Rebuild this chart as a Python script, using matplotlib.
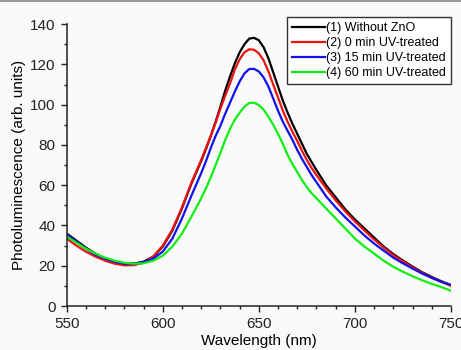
import matplotlib
matplotlib.use('Agg')
import matplotlib.pyplot as plt
import numpy as np

plt.rcParams['font.family'] = ['Liberation Sans', 'DejaVu Sans']

# Lunghezze d'onda (nm): passo 5 nelle code, 2.5 attorno al picco
wavelength = np.concatenate([np.arange(550, 621, 5),
                             np.arange(622.5, 680.1, 2.5),
                             np.arange(685, 751, 5)])

without_zno = [36.0, 32.5, 29.0, 26.0, 23.5, 22.0, 21.0, 21.0, 22.0, 24.5, 29.5, 37.5, 48.5, 61.0, 72.0,
               78.0, 84.5, 91.5, 99.0, 107.0, 114.0, 120.5, 126.0, 130.0, 132.8, 133.2, 132.0,
               128.5, 123.0, 116.0, 109.0, 102.0, 96.0, 90.5, 85.5, 80.5, 75.5, 71.5, 67.5,
               60.0, 54.0, 48.0, 43.0, 38.5, 34.0, 29.5, 25.8, 22.6, 19.6, 16.8, 14.4, 12.3, 10.3]
uv_0min = [33.5, 30.0, 27.0, 24.5, 22.5, 21.0, 20.2, 20.3, 21.5, 24.5, 30.0, 38.0, 49.0, 61.5, 72.5,
           78.5, 84.5, 91.0, 98.0, 104.5, 110.5, 117.5, 122.5, 126.0, 127.5, 127.3, 125.5,
           122.0, 116.5, 110.0, 103.5, 97.0, 91.5, 86.5, 82.0, 77.0, 72.5, 68.5, 65.0,
           58.5, 52.5, 47.0, 42.0, 37.5, 33.0, 29.0, 25.3, 22.2, 19.2, 16.5, 14.0, 12.0, 10.0]
uv_15min = [35.5, 32.0, 28.5, 25.5, 23.5, 22.0, 21.0, 21.0, 21.8, 23.5, 27.0, 33.5, 43.5, 55.0, 66.0,
            72.0, 78.5, 84.5, 89.5, 95.5, 101.0, 106.5, 111.5, 115.5, 117.7, 117.8, 116.5,
            113.5, 109.0, 103.0, 97.0, 91.5, 87.0, 82.5, 77.5, 73.0, 69.0, 65.0, 61.5,
            54.5, 49.0, 44.0, 39.5, 35.0, 31.0, 27.5, 24.0, 21.2, 18.6, 16.1, 14.0, 12.0, 10.5]
uv_60min = [34.5, 31.5, 28.5, 26.0, 24.0, 22.5, 21.5, 21.0, 21.2, 22.5, 25.0, 29.5, 36.0, 44.5, 53.5,
            58.5, 64.0, 70.0, 76.0, 82.5, 88.0, 92.5, 96.0, 99.0, 100.8, 101.0, 99.8,
            97.5, 94.0, 90.0, 85.5, 80.5, 75.0, 70.5, 66.5, 62.5, 59.0, 56.0, 53.5,
            48.5, 43.5, 38.5, 33.5, 29.5, 26.0, 22.5, 19.5, 17.0, 14.8, 12.8, 11.0, 9.4, 7.6]

labels = ["(1) Without ZnO", "(2) 0 min UV-treated",
          "(3) 15 min UV-treated", "(4) 60 min UV-treated"]
colors = ["#000000", "#ee1111", "#1111ee", "#11ee11"]

fig = plt.figure(figsize=(4.61, 3.5), dpi=100)
fig.patch.set_facecolor("#fafafa")
ax = fig.add_axes([0.1447, 0.1257, 0.8335, 0.8053])
ax.set_facecolor("#fafafa")

for serie, label, colore in zip([without_zno, uv_0min, uv_15min, uv_60min], labels, colors):
    ax.plot(wavelength, serie, color=colore, lw=1.6, label=label)

ax.set_xlim(550, 750)
ax.set_ylim(0, 140)
ax.set_xticks(np.arange(550, 751, 50))
ax.set_xticks(np.arange(550, 751, 10), minor=True)
ax.set_yticks(np.arange(0, 141, 20))
ax.set_yticks(np.arange(0, 141, 10), minor=True)
ax.spines['top'].set_visible(False)
ax.spines['right'].set_visible(False)
for s in ('left', 'bottom'):
    ax.spines[s].set_linewidth(1.1)
    ax.spines[s].set_color("#222222")
ax.tick_params(which='major', direction='out', length=4.5, width=1.0, labelsize=11, colors="#222222")
ax.tick_params(which='minor', direction='out', length=2.5, width=1.0, colors="#222222")

ax.set_xlabel("Wavelength (nm)", fontsize=11, labelpad=2)
ax.set_ylabel("Photoluminescence (arb. units)", fontsize=11, labelpad=3)

leg = ax.legend(loc='upper right', bbox_to_anchor=(1.0, 1.025), borderaxespad=0, fontsize=9,
                handlelength=2.6, handletextpad=0.1, labelspacing=0.25,
                borderpad=0.4, fancybox=False, framealpha=1.0)
leg.get_frame().set_edgecolor("#333333")
leg.get_frame().set_linewidth(1.0)

# bordo grigio in alto
fig.add_artist(plt.Line2D([0, 1], [0.997, 0.997], color="#999999", lw=1.5, transform=fig.transFigure))

plt.savefig("out.png", dpi=100, facecolor=fig.get_facecolor())
plt.close()
